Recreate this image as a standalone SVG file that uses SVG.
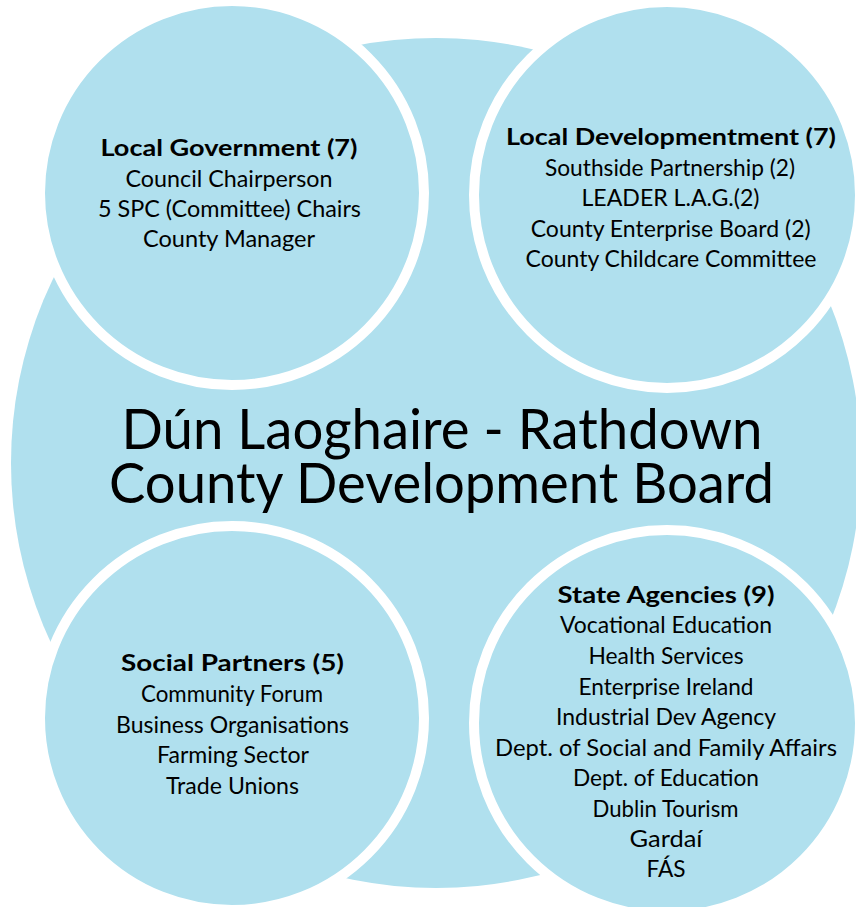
<svg xmlns="http://www.w3.org/2000/svg" width="856" height="907" viewBox="0 0 856 907">
  <style>
    .disc { fill: #b0e0ee; }
    .member { fill: #b0e0ee; stroke: #ffffff; stroke-width: 10; }
    text { font-family: "Lato", "Liberation Sans", sans-serif; fill: #000000; text-anchor: middle; }
    .head { font-size: 22px; font-weight: bold; }
    .item { font-size: 22.5px; }
    .title { font-size: 57px; }
  </style>

  <!-- Board: large background disc -->
  <g id="board">
    <circle class="disc" cx="436" cy="463" r="425"/>
  </g>

  <g id="local-government">
    <circle class="member" cx="232" cy="193" r="192"/>
    <text class="head" x="229" y="156" textLength="257" lengthAdjust="spacingAndGlyphs">Local Government (7)</text>
    <text class="item" x="229" y="187" textLength="207" lengthAdjust="spacingAndGlyphs">Council Chairperson</text>
    <text class="item" x="229.5" y="217" textLength="263" lengthAdjust="spacingAndGlyphs">5 SPC (Committee) Chairs</text>
    <text class="item" x="229" y="247" textLength="172" lengthAdjust="spacingAndGlyphs">County Manager</text>
  </g>

  <g id="local-development">
    <circle class="member" cx="667" cy="195" r="193"/>
    <text class="head" x="671" y="145" textLength="330" lengthAdjust="spacingAndGlyphs">Local Developmentment (7)</text>
    <text class="item" x="670" y="175.5" textLength="250" lengthAdjust="spacingAndGlyphs">Southside Partnership (2)</text>
    <text class="item" x="670.5" y="206" textLength="178" lengthAdjust="spacingAndGlyphs">LEADER L.A.G.(2)</text>
    <text class="item" x="670.7" y="236.5" textLength="280" lengthAdjust="spacingAndGlyphs">County Enterprise Board (2)</text>
    <text class="item" x="671" y="267" textLength="291" lengthAdjust="spacingAndGlyphs">County Childcare Committee</text>
  </g>

  <g id="social-partners">
    <circle class="member" cx="232" cy="718" r="192"/>
    <text class="head" x="232.5" y="671" textLength="223" lengthAdjust="spacingAndGlyphs">Social Partners (5)</text>
    <text class="item" x="232" y="702" textLength="182" lengthAdjust="spacingAndGlyphs">Community Forum</text>
    <text class="item" x="232.5" y="732.5" textLength="233" lengthAdjust="spacingAndGlyphs">Business Organisations</text>
    <text class="item" x="233" y="763" textLength="152" lengthAdjust="spacingAndGlyphs">Farming Sector</text>
    <text class="item" x="232.5" y="793.5" textLength="133" lengthAdjust="spacingAndGlyphs">Trade Unions</text>
  </g>

  <g id="state-agencies">
    <circle class="member" cx="667" cy="723" r="193"/>
    <text class="head" x="666" y="602.5" textLength="217" lengthAdjust="spacingAndGlyphs">State Agencies (9)</text>
    <text class="item" x="666" y="633" textLength="212" lengthAdjust="spacingAndGlyphs">Vocational Education</text>
    <text class="item" x="666" y="664" textLength="155" lengthAdjust="spacingAndGlyphs">Health Services</text>
    <text class="item" x="666" y="694.5" textLength="175" lengthAdjust="spacingAndGlyphs">Enterprise Ireland</text>
    <text class="item" x="666" y="725" textLength="220" lengthAdjust="spacingAndGlyphs">Industrial Dev Agency</text>
    <text class="item" x="666" y="755.5" textLength="342" lengthAdjust="spacingAndGlyphs">Dept. of Social and Family Affairs</text>
    <text class="item" x="666" y="786" textLength="186" lengthAdjust="spacingAndGlyphs">Dept. of Education</text>
    <text class="item" x="665.5" y="816.5" textLength="146" lengthAdjust="spacingAndGlyphs">Dublin Tourism</text>
    <text class="item" x="666" y="847" textLength="73" lengthAdjust="spacingAndGlyphs">Gardaí</text>
    <text class="item" x="666" y="877" textLength="39" lengthAdjust="spacingAndGlyphs">FÁS</text>
  </g>

  <g id="board-title">
    <text class="title" x="442" y="449" textLength="641" lengthAdjust="spacingAndGlyphs">Dún Laoghaire - Rathdown</text>
    <text class="title" x="441.5" y="503" textLength="665" lengthAdjust="spacingAndGlyphs">County Development Board</text>
  </g>

  <g id="connectors"></g>
</svg>
